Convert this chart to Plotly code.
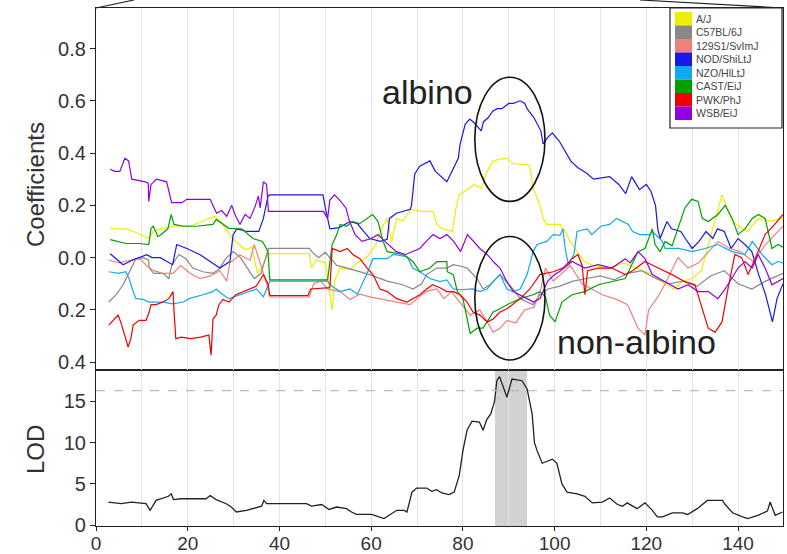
import plotly.graph_objects as go

# ---------------- data ----------------
STRAINS = ["A/J", "C57BL/6J", "129S1/SvImJ", "NOD/ShiLtJ", "NZO/HlLtJ", "CAST/EiJ", "PWK/PhJ", "WSB/EiJ"]
COLORS = ["#EEEE00", "#888888", "#F08080", "#1818E8", "#10A8F0", "#00A000", "#F00000", "#9000E0"]

AJ = [(3.1,0.112),(7.0,0.108),(9.2,0.092),(11.5,0.073),(12.5,0.1),(14,0.11),(17,0.12),(21,0.123),(24,0.146),
      (26,0.158),(27.5,0.13),(29.8,0.073),(31.2,0.05),(32.5,0.03),(34,0.04),(35.2,-0.06),(36.4,-0.03),(37.5,0.015),
      (46.5,0.015),(47,-0.04),(48,-0.01),(50,-0.02),(51.5,-0.2),(52,-0.09),(53.2,-0.04),(55.4,-0.045),(57,-0.02),
      (59,0.0),(61,0.05),(62.5,0.12),(63.5,0.15),(64.5,0.06),(65.5,0.15),(67,0.14),(68.5,0.185),(71,0.177),
      (73.5,0.177),(74.3,0.127),(75.6,0.11),(77.7,0.1),(78.5,0.19),(79.2,0.24),(81.3,0.265),(82.5,0.28),(84,0.265),
      (85.3,0.33),(86.6,0.37),(88.1,0.377),(89.6,0.38),(90.9,0.36),(92.5,0.357),(94,0.357),(94.6,0.35),(95.3,0.265),
      (96.8,0.2),(97.5,0.15),(98.3,0.127),(101.2,0.127),(102.3,0.1),(103.4,0.062),(105,0.02),(106.5,-0.015),
      (108.5,-0.03),(112,-0.04),(115,-0.02),(118,-0.04),(121.3,-0.065),(124,-0.1),(126,-0.12),(128,-0.09),
      (130,-0.08),(132,-0.05),(133.5,0.05),(136.5,0.24),(138.5,0.15),(139.5,0.13),(142,0.1),(144.5,0.15),
      (147,0.14),(149.8,0.15)]

C57 = [(2.8,-0.17),(4.4,-0.142),(5.9,-0.104),(7.2,-0.06),(8.1,-0.027),(8.7,-0.004),(10.3,0.0),(11.5,-0.01),
       (11.6,-0.04),(12.6,-0.06),(14.6,-0.06),(15.9,-0.08),(16.5,-0.03),(18.1,0.012),(19.6,-0.004),(21.1,-0.04),
       (23.3,-0.054),(25.5,-0.06),(26.8,-0.045),(28.3,-0.004),(29.9,0.023),(31.5,0.0),(33,-0.04),(34.5,-0.08),
       (36,-0.06),(37.6,0.035),(46.5,0.035),(47.2,0.02),(48.5,0.0),(50,0.02),(51,0.0),(52.5,-0.03),(54.8,-0.04),
       (56.6,-0.05),(59.7,-0.065),(63.5,-0.09),(66.9,-0.104),(69.1,-0.12),(71,-0.1),(72.1,-0.065),(74.3,-0.04),
       (76.5,-0.04),(77.9,-0.027),(80,-0.035),(80.9,-0.04),(83.1,-0.08),(84.4,-0.12),(85.9,-0.104),(88.1,-0.065),
       (90.9,-0.12),(92.5,-0.157),(94,-0.17),(95.3,-0.18),(96.8,-0.142),(98.5,-0.12),(101,-0.11),(104,-0.09),
       (107,-0.08),(110,-0.07),(113,-0.085),(116,-0.06),(119,-0.05),(122,-0.08),(125,-0.1),(128,-0.09),
       (131,-0.11),(134,-0.07),(137,-0.05),(140,-0.1),(143,-0.12),(146,-0.09),(149.8,-0.06)]

S129 = [(2.8,-0.01),(5,-0.02),(7.4,-0.01),(9.6,-0.005),(11.0,-0.03),(12.6,-0.05),(14.5,-0.06),(16.8,-0.06),
        (18.5,-0.03),(20.5,-0.06),(22.7,-0.08),(24.9,-0.07),(27.0,-0.05),(28.5,-0.09),(29.2,-0.02),(31.4,0.01),
        (33.6,-0.01),(34.5,0.05),(35.8,-0.02),(37.2,-0.1),(37.9,-0.15),(46.5,-0.15),(47.5,-0.1),(49,-0.09),
        (50.5,-0.12),(53.2,-0.13),(55.4,-0.16),(57.5,-0.14),(59.7,-0.15),(62.5,-0.16),(65,-0.17),(68.5,-0.18),
        (70.5,-0.15),(72,-0.13),(74.3,-0.12),(75.9,-0.157),(77.5,-0.13),(79.4,-0.17),(81.6,-0.22),(83.7,-0.2),
        (85.3,-0.246),(86.6,-0.285),(88.1,-0.27),(89.6,-0.24),(91.5,-0.25),(93.5,-0.2),(95.5,-0.19),(97,-0.12),
        (98,-0.04),(99.7,-0.09),(101.6,-0.06),(103.4,-0.03),(106,-0.1),(110.4,-0.142),(113.5,-0.16),(115.9,-0.18),
        (118.2,-0.27),(119.7,-0.296),(120.5,-0.2),(122.5,-0.15),(124.1,-0.1),(126.9,0.0),(129.1,-0.04),
        (131.4,-0.02),(135.6,0.062),(138.2,0.035),(140.5,0.023),(143.3,-0.015),(146,0.05),(149.8,0.12)]

NOD = [(3.1,0.015),(5.9,-0.027),(8.1,-0.008),(11.1,0.011),(12.2,0.0),(14,0.0),(16.7,-0.027),(17.6,0.05),
       (19.8,0.035),(22.7,0.011),(24.9,-0.015),(27,-0.04),(29.2,-0.015),(29.9,0.088),(30.7,0.11),(32.9,0.1),
       (35.5,0.1),(36.5,0.15),(37.5,0.235),(38,0.24),(49.5,0.24),(50,0.19),(51,0.11),(53,0.115),(55.4,0.138),
       (57,0.13),(58,0.108),(59.7,0.073),(62,0.062),(63.5,0.07),(64,0.15),(65.5,0.17),(68.5,0.185),(68.8,0.2),
       (69.5,0.32),(70.6,0.35),(72.8,0.37),(74,0.33),(76.5,0.29),(79,0.38),(79.4,0.435),(80.5,0.51),(81.5,0.53),
       (82.5,0.515),(84,0.485),(84.5,0.52),(85.5,0.535),(86.5,0.56),(87.5,0.57),(88.5,0.57),(90,0.59),(91,0.59),
       (92.5,0.6),(93.5,0.59),(94,0.57),(95.5,0.535),(97,0.485),(97.5,0.435),(98.5,0.46),(99.5,0.477),
       (101,0.446),(102.5,0.4),(103.5,0.37),(105,0.345),(107,0.323),(108.5,0.3),(110,0.304),(112,0.31),
       (114,0.28),(115.5,0.245),(116.8,0.31),(118.5,0.26),(120,0.28),(121,0.254),(122,0.2),(122.5,0.11),
       (123,0.073),(124.5,0.138),(125.5,0.11),(127.5,0.1),(128.5,0.073),(130,0.035),(131.5,0.062),(133,0.1),
       (134.5,0.073),(135.5,0.11),(137,0.1),(138.5,0.035),(140,0.073),(141.5,0.05),(143,0.023),(144.5,-0.065),
       (146,-0.142),(147.5,-0.246),(148.5,-0.157),(149.8,-0.1)]

NZO = [(2.8,-0.054),(5,-0.06),(6.5,-0.054),(7.2,-0.08),(8.1,-0.13),(8.7,-0.157),(10.3,-0.16),(11.5,-0.17),
       (14.6,-0.17),(16.8,-0.177),(19,-0.17),(20.3,-0.157),(23.3,-0.142),(25.5,-0.13),(26.2,-0.12),(27.7,-0.142),
       (29,-0.157),(31.4,-0.142),(33.4,-0.13),(35,-0.12),(36.5,-0.15),(37.9,-0.09),(50.5,-0.09),(51.5,-0.11),
       (53.2,-0.13),(55.4,-0.12),(57,-0.14),(59,-0.065),(60.4,-0.004),(63.5,-0.004),(64.8,0.012),(67.8,0.004),
       (69.1,-0.04),(70.6,-0.054),(72.8,-0.08),(75,-0.092),(76.5,-0.085),(77.9,-0.12),(79.4,-0.123),(82.2,-0.12),
       (83.7,-0.13),(85.3,-0.12),(86.6,-0.092),(88.1,-0.065),(89.6,-0.12),(90.9,-0.13),(92.5,-0.12),(94,-0.065),
       (95.3,0.023),(96.2,0.05),(98.3,0.062),(99.7,0.088),(101.2,0.085),(101.8,0.11),(102.3,0.035),(103,-0.027),
       (104.2,0.012),(104.9,0.1),(107.1,0.11),(108.1,0.088),(110.1,0.12),(112,0.127),(113.5,0.15),(114.8,0.138),
       (116.1,0.127),(117,0.1),(118.6,0.088),(120.8,0.088),(121.3,0.1),(123.5,0.062),(124.1,0.035),(127,0.035),
       (130,0.023),(132.8,0.035),(135.6,0.05),(138.7,0.023),(141.5,0.012),(143.1,0.062),(145.2,0.012),
       (147.4,-0.027),(148.7,-0.015),(149.8,-0.02)]

CAST = [(3.1,0.069),(6.5,0.054),(9.5,0.054),(11.5,0.05),(12,0.112),(12.5,0.12),(13.5,0.08),(14.5,0.092),
        (15.7,0.112),(16.4,0.165),(17,0.127),(19,0.12),(22,0.12),(25.5,0.127),(26.2,0.146),(27.7,0.127),(29,0.112),
        (31.8,0.11),(34.2,0.073),(36.3,0.062),(37.5,0.023),(37.9,-0.085),(50.5,-0.085),(51.5,0.05),(52.5,0.088),
        (53.2,0.127),(54.6,0.12),(56,0.138),(57.5,0.13),(60.3,0.165),(61.5,0.138),(62.6,0.062),(63.5,0.023),
        (67,0.012),(69.1,-0.015),(70.6,-0.054),(72.8,-0.04),(74.3,-0.015),(76.5,-0.015),(76.6,-0.054),
        (77.9,-0.065),(78.8,-0.13),(80,-0.157),(81.6,-0.29),(83.1,-0.27),(84.4,-0.27),(85.3,-0.246),(86.6,-0.208),
        (88.1,-0.196),(89.6,-0.18),(90.9,-0.17),(92.5,-0.157),(95.3,-0.142),(96.8,-0.13),(98,-0.15),(98.9,-0.22),
        (100.1,-0.246),(101.6,-0.17),(103.8,-0.142),(106.6,-0.13),(109.5,-0.104),(112.5,-0.092),(115.4,-0.08),
        (118.2,0.023),(119.7,0.035),(121.3,0.11),(121.9,0.05),(123,0.023),(124.1,0.062),(125.6,0.045),
        (126.9,0.11),(128.4,0.19),(129.9,0.223),(131.3,0.215),(132.2,0.15),(133.5,0.138),(135.6,0.165),
        (137.2,0.2),(138.7,0.15),(140,0.088),(141.5,0.11),(143.1,0.15),(144.4,0.165),(145.9,0.15),(147.4,0.035),
        (148.7,0.05),(149.8,0.04)]

PWK = [(2.8,-0.258),(3.9,-0.235),(4.8,-0.22),(5.4,-0.246),(6.5,-0.31),(7,-0.342),(7.6,-0.31),(8.1,-0.258),
       (9.4,-0.24),(10.9,-0.24),(11.6,-0.208),(12,-0.18),(13.1,-0.18),(14.6,-0.17),(15.9,-0.157),(16.8,-0.13),
       (17,-0.2),(17.4,-0.31),(18.6,-0.304),(20.6,-0.31),(22.8,-0.304),(24.6,-0.296),(25.1,-0.373),(25.5,-0.235),
       (26.2,-0.22),(26.8,-0.18),(27.7,-0.16),(29,-0.17),(30.5,-0.142),(32,-0.13),(33.4,-0.12),(34.9,-0.11),
       (36,-0.08),(36.5,-0.065),(37.5,-0.1),(37.9,-0.145),(46.2,-0.145),(46.8,-0.12),(51,-0.115),(51.5,0.035),
       (53.2,0.023),(54.8,0.035),(56,0.012),(57.6,-0.005),(59.1,-0.04),(60.4,-0.065),(61.9,-0.12),(63.5,-0.13),
       (65.6,-0.157),(67.8,-0.17),(69.1,-0.157),(70.6,-0.142),(72.1,-0.12),(73.4,-0.104),(75,-0.115),(76.5,-0.13),
       (78,-0.13),(79.4,-0.142),(80.9,-0.17),(82.2,-0.208),(83.7,-0.22),(85.3,-0.246),(86.6,-0.235),(88.1,-0.208),
       (89.6,-0.196),(90.9,-0.18),(92.5,-0.157),(94.6,-0.12),(96.8,-0.065),(99.7,-0.054),(101.8,-0.04),
       (103.8,-0.004),(105.1,0.012),(106,-0.03),(106.6,-0.142),(107.2,-0.05),(109.5,-0.04),(112.5,-0.04),
       (115.4,-0.065),(117,-0.05),(119.7,-0.015),(122.6,-0.04),(125.6,-0.065),(128.4,-0.092),(130.6,-0.104),
       (132.2,-0.196),(133.5,-0.27),(135,-0.285),(136.5,-0.246),(137.8,-0.12),(139.3,0.012),(140.8,0.0),
       (142.2,-0.065),(143.7,-0.004),(145.9,0.088),(148,0.127),(149.8,0.165)]

WSB = [(3.1,0.338),(4.1,0.33),(5.2,0.33),(6.3,0.38),(7.1,0.37),(7.8,0.30),(10.7,0.29),(11.4,0.285),(11.5,0.215),
       (12,0.28),(13.2,0.30),(15.4,0.29),(16.5,0.21),(18.7,0.21),(19.8,0.223),(24.9,0.223),(25.6,0.196),
       (26.3,0.17),(27.4,0.18),(28.5,0.158),(29.6,0.2),(30.3,0.165),(31.4,0.127),(32.5,0.165),(33.6,0.15),
       (34.7,0.196),(35.4,0.235),(35.8,0.19),(36.5,0.29),(37.2,0.28),(37.6,0.177),(49.6,0.177),(50.5,0.15),
       (51,0.22),(52,0.24),(53,0.223),(54.5,0.19),(55.3,0.138),(56.5,0.088),(58,0.062),(60,0.073),(61.5,0.088),
       (63,0.062),(65.5,0.023),(67.5,0.012),(69,0.023),(70.6,0.035),(72,0.062),(73.5,0.088),(75,0.073),
       (76.5,0.088),(78,0.062),(79.5,0.023),(81,0.088),(82.3,0.062),(83.7,0.035),(85.3,0.012),(86.6,-0.015),
       (88.1,-0.04),(89.6,-0.092),(91,-0.13),(92.5,-0.142),(94,-0.157),(95.4,-0.17),(96.8,-0.157),(98.5,-0.09),
       (100,-0.065),(101,-0.054),(103.8,-0.015),(106.6,-0.04),(109.5,-0.027),(112.5,-0.04),(115.4,-0.004),
       (116.5,-0.02),(118.2,0.023),(119.7,-0.004),(121.3,-0.065),(124.1,-0.092),(126.9,-0.12),(129.1,-0.104),
       (131.3,-0.13),(133.5,-0.13),(135.6,-0.157),(137.2,-0.12),(140.0,-0.04),(141.5,-0.015),(143.1,-0.04),
       (144.4,0.012),(145.9,-0.04),(147.4,-0.104),(148.7,-0.092),(149.8,-0.08)]

SERIES = [AJ, C57, S129, NOD, NZO, CAST, PWK, WSB]

LOD_X = [2.7,5.5,7.7,10.9,11.8,13.1,15.8,16.4,16.9,18.6,24.0,24.9,26.2,28.4,29.5,30.6,32.8,35.0,36.1,36.6,37.2,
         45.9,47.0,49.2,50.8,52.5,54.6,55.7,56.8,60.1,61.2,62.8,63.9,65.6,67.2,67.8,68.9,69.9,72.1,73.2,74.3,75.4,
         77.0,78.1,79.2,80.0,80.9,82.0,83.6,84.4,85.2,86.1,86.9,87.4,88.0,89.6,90.7,92.9,94.0,95.1,95.6,96.2,97.3,
         98.9,99.5,100.5,101.6,102.7,104.9,106.6,108.2,110.4,112.0,113.7,114.8,115.8,118.0,119.7,121.3,122.4,
         123.5,125.7,127.9,129.0,131.1,133.3,136.6,137.2,138.8,141.0,142.1,144.3,146.4,147.0,148.1,149.7]
LOD_Y = [2.8,2.6,2.8,2.6,1.8,3.0,3.5,3.8,3.1,3.2,3.2,3.6,3.1,2.6,2.2,1.6,1.8,2.1,2.3,3.0,2.6,
         2.6,2.3,2.5,1.9,2.2,2.0,1.6,1.3,1.3,1.1,0.8,1.2,1.8,1.8,1.6,4.0,4.5,4.5,4.1,4.3,3.9,
         3.7,4.0,6.0,9.0,11.5,12.6,12.5,11.5,12.8,13.5,15.0,17.5,18.0,15.5,17.7,17.5,16.5,13.5,10.0,9.0,7.5,
         7.8,8.0,7.5,5.0,4.0,3.8,3.5,2.7,2.8,3.3,2.5,2.3,2.7,2.0,2.7,1.8,1.0,
         1.0,1.5,1.5,1.3,2.0,3.0,3.0,2.5,1.5,1.0,0.8,1.2,1.7,2.8,1.2,1.6]

THRESHOLD = 16.3
INTERVAL = (87.0, 94.0)
X_TICKS = [0, 20, 40, 60, 80, 100, 120, 140]
COEF_TICKS = [-0.4, -0.2, 0.0, 0.2, 0.4, 0.6, 0.8]
COEF_TICK_TEXT = ["0.4", "0.2", "0.0", "0.2", "0.4", "0.6", "0.8"]
LOD_TICKS = [0, 5, 10, 15]

# ---------------- figure ----------------
W, H = 787, 554
ML, MR, MT, MB = 96, 4, 8, 28
PW, PH = W - ML - MR, H - MT - MB
SPLIT = (H - MB - 370) / PH  # boundary between panels

def px(xp):
    return (xp - ML) / PW

def py(yp):
    return (H - MB - yp) / PH

FONT = "Liberation Sans, Arial, sans-serif"
fig = go.Figure()

for name, color, pts in zip(STRAINS, COLORS, SERIES):
    fig.add_trace(go.Scatter(x=[p[0] for p in pts], y=[p[1] for p in pts], mode="lines",
                             line=dict(color=color, width=1.2), name=name,
                             xaxis="x2", yaxis="y2", showlegend=False))

fig.add_trace(go.Scatter(x=LOD_X, y=LOD_Y, mode="lines", line=dict(color="#222222", width=1.3),
                         name="LOD", showlegend=False, xaxis="x", yaxis="y"))

grid = dict(showgrid=True, gridcolor="#e3e3e3", gridwidth=1)
axline = dict(showline=True, linecolor="#222222", linewidth=1.2, mirror=True, zeroline=False)
tickfont = dict(family=FONT, size=20, color="#333333")
xtickfont = dict(family=FONT, size=19, color="#333333")

fig.update_layout(
    width=W, height=H, margin=dict(l=ML, r=MR, t=MT, b=MB, autoexpand=False),
    paper_bgcolor="white", plot_bgcolor="white", showlegend=False,
    xaxis=dict(domain=[0, 1], anchor="y", range=[0, 149.8], tickvals=X_TICKS, ticks="outside", ticklen=4,
               ticklabelstandoff=-4,
               tickcolor="#222222", tickfont=xtickfont, minor=dict(dtick=10, tick0=0, showgrid=True,
               gridcolor="#e3e3e3", ticks=""), **grid, **axline),
    xaxis2=dict(domain=[0, 1], anchor="y2", matches="x", range=[0, 149.8], tickvals=X_TICKS,
                showticklabels=False, ticks="", minor=dict(dtick=10, tick0=0, showgrid=True,
                gridcolor="#e3e3e3", ticks=""), **grid, **axline),
    yaxis=dict(domain=[0, SPLIT], anchor="x", range=[-0.1, 18.8], tickvals=LOD_TICKS, ticks="outside",
               ticklen=5, tickcolor="#222222", tickfont=tickfont, showgrid=False, **axline),
    yaxis2=dict(domain=[SPLIT, 1], anchor="x2", range=[-0.43, 0.955], tickvals=COEF_TICKS,
                ticktext=COEF_TICK_TEXT, ticks="outside", ticklen=5, tickcolor="#222222",
                tickfont=tickfont, showgrid=False, **axline),
)

shapes = []
# support interval and threshold in LOD panel
shapes.append(dict(type="rect", xref="x", yref="y domain", x0=INTERVAL[0], x1=INTERVAL[1], y0=0, y1=1,
                   fillcolor="#d2d2d2", line=dict(width=0), layer="below"))
shapes.append(dict(type="line", xref="x domain", yref="y", x0=0, x1=1, y0=THRESHOLD, y1=THRESHOLD,
                   line=dict(color="#bbbbbb", width=1.2, dash="dash")))
# ellipses
shapes.append(dict(type="circle", xref="x2", yref="y2", x0=82.6, x1=97.9, y0=0.215, y1=0.69,
                   line=dict(color="#111111", width=1.6)))
shapes.append(dict(type="circle", xref="x2", yref="y2", x0=82.6, x1=97.9, y0=-0.392, y1=0.081,
                   line=dict(color="#111111", width=1.6)))
# zoom-indicator lines at the top
shapes.append(dict(type="line", xref="paper", yref="paper", x0=px(96), y0=py(8), x1=px(134), y1=py(0),
                   line=dict(color="#222222", width=1.2)))
shapes.append(dict(type="line", xref="paper", yref="paper", x0=px(640), y0=py(0), x1=px(783), y1=py(8),
                   line=dict(color="#222222", width=1.2)))
# legend box
LX0, LX1, LY0, LY1 = 670, 782, 8, 128
shapes.append(dict(type="rect", xref="paper", yref="paper", x0=px(LX0), x1=px(LX1), y0=py(LY1), y1=py(LY0),
                   fillcolor="white", line=dict(color="#222222", width=1.2)))
ROW = 13.5
annotations = []
for i, (name, color) in enumerate(zip(STRAINS, COLORS)):
    top = 12 + i * ROW
    shapes.append(dict(type="rect", xref="paper", yref="paper", x0=px(675), x1=px(692),
                       y0=py(top + ROW), y1=py(top), fillcolor=color, line=dict(width=0)))
    annotations.append(dict(xref="paper", yref="paper", x=px(694), y=py(top + ROW / 2), text=name,
                            showarrow=False, xanchor="left", yanchor="middle",
                            font=dict(family=FONT, size=10.5, color="#444444")))

annotations += [
    dict(xref="x2", yref="y2", x=72.2, y=0.635, text="albino", showarrow=False, xanchor="center",
         yanchor="middle", font=dict(family=FONT, size=34, color="#222222")),
    dict(xref="x2", yref="y2", x=117.8, y=-0.323, text="non-albino", showarrow=False, xanchor="center",
         yanchor="middle", font=dict(family=FONT, size=34, color="#222222")),
    dict(xref="paper", yref="paper", x=px(35), y=py(185), text="Coefficients", showarrow=False,
         textangle=-90, xanchor="center", yanchor="middle", font=dict(family=FONT, size=24, color="#333333")),
    dict(xref="paper", yref="paper", x=px(35), y=py(450), text="LOD", showarrow=False,
         textangle=-90, xanchor="center", yanchor="middle", font=dict(family=FONT, size=24, color="#333333")),
]
fig.update_layout(shapes=shapes, annotations=annotations)

fig.write_html("out.html", config={"displayModeBar": False},
               post_script="document.body.style.margin='0';document.body.style.overflow='hidden';")
